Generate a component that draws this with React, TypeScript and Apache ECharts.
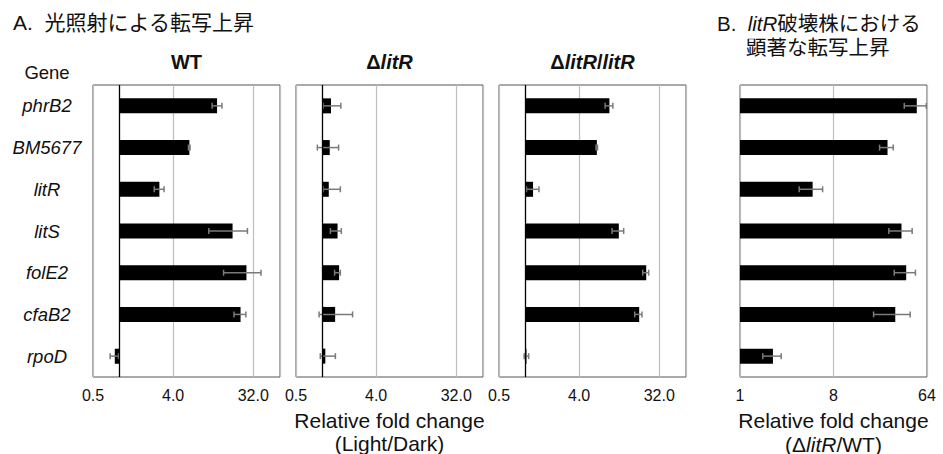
import React, { useEffect, useRef } from 'react';
import * as echarts from 'echarts';

const genes = ['phrB2', 'BM5677', 'litR', 'litS', 'folE2', 'cfaB2', 'rpoD'];

// Panel A: WT (Light/Dark)
const wtValues = [12.5, 6.1, 2.8, 18.7, 26.8, 23.0, 0.88];
const wtLow = [11.0, 5.95, 2.45, 10.1, 14.8, 19.4, 0.78];
const wtHigh = [14.2, 6.2, 3.16, 27.5, 39.1, 26.4, 0.97];
// Panel A: ΔlitR (Light/Dark)
const litRValues = [1.24, 1.2, 1.17, 1.47, 1.53, 1.38, 1.07];
const litRLow = [1.01, 0.87, 1.01, 1.22, 1.36, 0.91, 0.94];
const litRHigh = [1.6, 1.51, 1.58, 1.62, 1.58, 2.17, 1.39];
// Panel A: ΔlitR/litR (Light/Dark)
const compValues = [8.77, 6.33, 1.21, 11.2, 22.8, 19.0, 1.02];
const compLow = [7.85, 6.2, 1.02, 9.4, 20.8, 16.9, 0.96];
const compHigh = [9.6, 6.45, 1.41, 12.7, 24.3, 20.4, 1.08];
// Panel B: ΔlitR/WT
const ratioValues = [51, 26.6, 5.03, 36.3, 40.3, 31.6, 2.08];
const ratioLow = [38.6, 22.3, 3.73, 27.4, 30.9, 19.5, 1.66];
const ratioHigh = [63, 30.2, 6.28, 46, 49.5, 44, 2.5];

const lightDarkTicks = [0.5, 4, 32, 64];
const ratioTicks = [1, 8, 64];

const FONT = '"Liberation Sans", Arial, "Noto Sans CJK JP", sans-serif';

export default function App() {
  const ref = useRef<HTMLDivElement>(null);

  useEffect(() => {
    if (!ref.current) return;
    const chart = echarts.init(ref.current, null, { renderer: 'svg' });
    const l2 = (v: number) => Math.log2(v);

    const panels = [
      { left: 93, vals: wtValues, lo: wtLow, hi: wtHigh, ticks: lightDarkTicks, fmt: (v: number) => Math.pow(2, v).toFixed(1), baseline: true },
      { left: 296, vals: litRValues, lo: litRLow, hi: litRHigh, ticks: lightDarkTicks, fmt: (v: number) => Math.pow(2, v).toFixed(1), baseline: true },
      { left: 499, vals: compValues, lo: compLow, hi: compHigh, ticks: lightDarkTicks, fmt: (v: number) => Math.pow(2, v).toFixed(1), baseline: true },
      { left: 740, vals: ratioValues, lo: ratioLow, hi: ratioHigh, ticks: ratioTicks, fmt: (v: number) => String(Math.round(Math.pow(2, v))), baseline: false },
    ];

    const grid: any[] = [];
    const xAxis: any[] = [];
    const yAxis: any[] = [];
    const series: any[] = [];

    panels.forEach((p, i) => {
      grid.push({ left: p.left, top: 85, width: 187, height: 292, show: true, borderColor: '#555', borderWidth: 1, backgroundColor: 'transparent' });
      const t0 = l2(p.ticks[0]);
      const step = l2(p.ticks[1]) - t0;
      xAxis.push({
        type: 'value',
        gridIndex: i,
        min: t0,
        max: l2(p.ticks[p.ticks.length - 1]),
        interval: step,
        axisLine: { show: false },
        axisTick: { show: false },
        splitLine: { show: true, lineStyle: { color: '#bdbdbd', width: 1.2 } },
        axisLabel: {
          formatter: p.fmt,
          color: '#111',
          fontSize: 16,
          fontFamily: FONT,
          margin: 10,
          showMaxLabel: p.ticks.length === 3,
          showMinLabel: true,
        },
      });
      yAxis.push({
        type: 'category',
        gridIndex: i,
        data: genes,
        inverse: true,
        axisLine: { show: false },
        axisTick: { show: false },
        splitLine: { show: false },
        axisLabel: i === 0
          ? { show: true, align: 'center', margin: 46, fontSize: 18.5, fontStyle: 'italic', color: '#111', fontFamily: FONT }
          : { show: false },
      });
      series.push({
        type: 'bar',
        xAxisIndex: i,
        yAxisIndex: i,
        data: p.vals.map(l2),
        barWidth: 15,
        itemStyle: { color: '#000' },
        z: 2,
        markLine: p.baseline
          ? {
              silent: true,
              symbol: 'none',
              label: { show: false },
              lineStyle: { color: '#000', width: 1.3, type: 'solid' },
              data: [{ xAxis: 0 }],
            }
          : undefined,
      });
      series.push({
        type: 'custom',
        xAxisIndex: i,
        yAxisIndex: i,
        z: 3,
        encode: { x: [0, 1], y: 2 },
        data: genes.map((g, k) => [l2(p.lo[k]), l2(p.hi[k]), k]),
        renderItem: (params: any, api: any) => {
          const a = api.coord([api.value(0), api.value(2)]);
          const b = api.coord([api.value(1), api.value(2)]);
          const h = 3;
          const st = { stroke: '#7a7a7a', lineWidth: 1.5 };
          return {
            type: 'group',
            children: [
              { type: 'line', shape: { x1: a[0], y1: a[1], x2: b[0], y2: b[1] }, style: st },
              { type: 'line', shape: { x1: a[0], y1: a[1] - h, x2: a[0], y2: a[1] + h }, style: st },
              { type: 'line', shape: { x1: b[0], y1: b[1] - h, x2: b[0], y2: b[1] + h }, style: st },
            ],
          };
        },
      });
    });

    const txt = (x: number, y: number, text: string, extra: any = {}) => ({
      type: 'text',
      x,
      y,
      style: {
        text,
        fill: '#111',
        fontFamily: FONT,
        fontSize: 18,
        align: 'center',
        verticalAlign: 'middle',
        ...extra,
      },
    });

    const boldRich = {
      d: { fontFamily: FONT, fontSize: 20, fontWeight: 'bold', fill: '#111' },
      i: { fontFamily: FONT, fontSize: 20, fontWeight: 'bold', fontStyle: 'italic', fill: '#111' },
    };

    const graphic = [
      txt(13, 22, 'A.  光照射による転写上昇', { align: 'left', fontSize: 21 }),
      txt(717, 23, '{n|B.  }{i|litR}{n|破壊株における}', {
        align: 'left',
        rich: {
          n: { fontFamily: FONT, fontSize: 20.5, fill: '#111' },
          i: { fontFamily: FONT, fontSize: 20.5, fontStyle: 'italic', fill: '#111' },
        },
      }),
      txt(746, 47, '顕著な転写上昇', { align: 'left', fontSize: 20.5 }),
      txt(47, 72, 'Gene', { fontSize: 18.5 }),
      txt(186.5, 62, '{d|WT}', { rich: boldRich }),
      txt(389.5, 62, '{d|Δ}{i|litR}', { rich: boldRich }),
      txt(592.5, 62, '{d|Δ}{i|litR}{d|/}{i|litR}', { rich: boldRich }),
      txt(389.5, 420, 'Relative fold change', { fontSize: 21 }),
      txt(389.5, 443, '(Light/Dark)', { fontSize: 21 }),
      txt(833.5, 420, 'Relative fold change', { fontSize: 21 }),
      txt(833.5, 444, '{n|(Δ}{i|litR}{n|/WT)}', {
        rich: {
          n: { fontFamily: FONT, fontSize: 21, fill: '#111' },
          i: { fontFamily: FONT, fontSize: 21, fontStyle: 'italic', fill: '#111' },
        },
      }),
    ];

    chart.setOption({
      animation: false,
      backgroundColor: '#fff',
      grid,
      xAxis,
      yAxis,
      series,
      graphic,
    });

    return () => chart.dispose();
  }, []);

  return (
    <div
      ref={ref}
      style={{ position: 'fixed', left: 0, top: 0, width: 943, height: 454, background: '#fff' }}
    />
  );
}
